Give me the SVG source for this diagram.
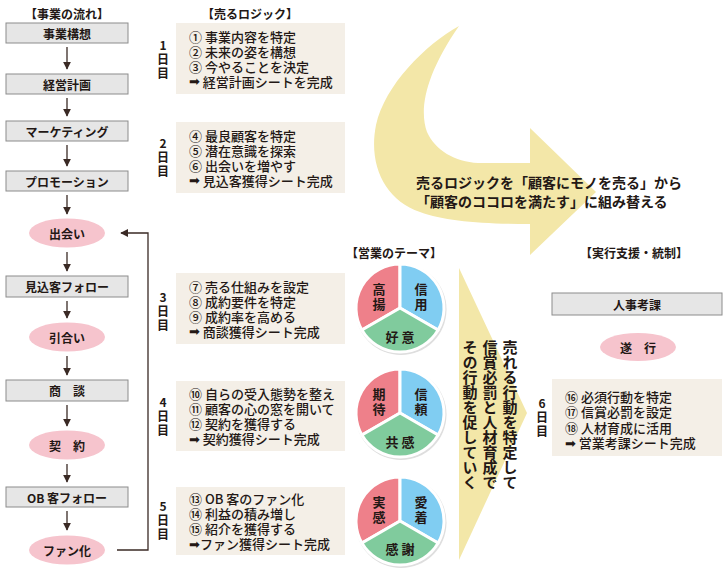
<svg xmlns="http://www.w3.org/2000/svg" width="728" height="576" viewBox="0 0 728 576">
<defs>
<style>
text{font-family:"Noto Sans CJK JP","Noto Sans CJK SC",sans-serif;fill:#231815}
.title{font-size:12px;font-weight:bold;text-anchor:middle;dominant-baseline:central}
.nl{font-size:12px;font-weight:bold;text-anchor:middle;dominant-baseline:central}
.it{font-size:13px;font-weight:500;dominant-baseline:central}
.day{font-size:12px;font-weight:bold;text-anchor:middle;dominant-baseline:central}
.pl{font-size:13px;font-weight:bold;text-anchor:middle;dominant-baseline:central}
.big{font-size:14px;font-weight:bold;dominant-baseline:central}
.vt{font-size:15px;font-weight:bold;writing-mode:vertical-rl}
.ar{font-family:"DejaVu Sans",sans-serif}
.box{fill:#E6E6E6;stroke:#8C8C8C;stroke-width:1}
.ell{fill:#F6C4CD}
.lst{fill:#F4EFE7}
.pk{fill:#EE808A;stroke:#fff;stroke-width:3;stroke-linejoin:round}
.bl{fill:#80CDF2;stroke:#fff;stroke-width:3;stroke-linejoin:round}
.gr{fill:#80CB9D;stroke:#fff;stroke-width:3;stroke-linejoin:round}
.sh{fill:#DEDEDE}
.yl{fill:#F3E7A8}
.cn{fill:none;stroke:#3A2A25;stroke-width:1.3}
</style>
<marker id="ah" viewBox="0 0 10 10" refX="9" refY="5" markerUnits="userSpaceOnUse" markerWidth="8" markerHeight="8" orient="auto">
<path d="M0,0 L10,5 L0,10 z" fill="#3A2A25"/>
</marker>
</defs>
<rect width="728" height="576" fill="#fff"/>

<!-- yellow arrows -->
<g id="bigArrow">
<path class="yl" d="M459,26 C425,45 385,85 376,125 C368,165 385,200 420,212 C445,221 480,224 530,224 L530,255 L596,192 L530,128 L530,163 L478,163 C455,162 435,150 427,132 C419,110 425,75 459,26 Z"/>
<text class="big" x="416" y="182">売るロジックを「顧客にモノを売る」から</text>
<text class="big" x="416" y="201">「顧客のココロを満たす」に組み替える</text>
</g>
<g id="vtriangle">
<polygon class="yl" points="459,268 527,413 459,560"/>
<text class="vt" x="510" y="340">売れる行動を特定して</text>
<text class="vt" x="490" y="340">信賞必罰と人材育成で</text>
<text class="vt" x="470" y="340">その行動を促していく</text>
</g>

<!-- titles -->
<text class="title" x="67" y="13">【事業の流れ】</text>
<text class="title" x="250" y="13">【売るロジック】</text>
<text class="title" x="394" y="252">【営業のテーマ】</text>
<text class="title" x="634" y="252">【実行支援・統制】</text>

<!-- connectors -->
<g id="connectors">
<line class="cn" x1="67" y1="47" x2="67" y2="69" marker-end="url(#ah)"/>
<line class="cn" x1="67" y1="98" x2="67" y2="116" marker-end="url(#ah)"/>
<line class="cn" x1="67" y1="145" x2="67" y2="166" marker-end="url(#ah)"/>
<line class="cn" x1="67" y1="195" x2="67" y2="214" marker-end="url(#ah)"/>
<line class="cn" x1="67" y1="252" x2="67" y2="271" marker-end="url(#ah)"/>
<line class="cn" x1="67" y1="301" x2="67" y2="318" marker-end="url(#ah)"/>
<line class="cn" x1="67" y1="356" x2="67" y2="375" marker-end="url(#ah)"/>
<line class="cn" x1="67" y1="405" x2="67" y2="426" marker-end="url(#ah)"/>
<line class="cn" x1="67" y1="464" x2="67" y2="482" marker-end="url(#ah)"/>
<line class="cn" x1="67" y1="511" x2="67" y2="530" marker-end="url(#ah)"/>
<polyline class="cn" points="117,550 148,550 148,233 121,233" marker-end="url(#ah)"/>
</g>

<!-- flow nodes -->
<g id="n1"><rect class="box" x="6" y="23" width="122" height="20"/><text class="nl" x="67" y="33">事業構想</text></g>
<g id="n2"><rect class="box" x="6" y="74" width="122" height="20"/><text class="nl" x="67" y="84">経営計画</text></g>
<g id="n3"><rect class="box" x="6" y="121" width="122" height="20"/><text class="nl" x="67" y="131">マーケティング</text></g>
<g id="n4"><rect class="box" x="6" y="171" width="122" height="20"/><text class="nl" x="67" y="181">プロモーション</text></g>
<g id="n5"><ellipse class="ell" cx="67" cy="233" rx="38" ry="14.5"/><text class="nl" x="67" y="233">出会い</text></g>
<g id="n6"><rect class="box" x="6" y="276" width="122" height="21"/><text class="nl" x="67" y="286.5">見込客フォロー</text></g>
<g id="n7"><ellipse class="ell" cx="67" cy="337" rx="38" ry="14.5"/><text class="nl" x="67" y="337">引合い</text></g>
<g id="n8"><rect class="box" x="6" y="380" width="122" height="21"/><text class="nl" x="67" y="390.5">商　談</text></g>
<g id="n9"><ellipse class="ell" cx="67" cy="445" rx="38" ry="14.5"/><text class="nl" x="67" y="445">契　約</text></g>
<g id="n10"><rect class="box" x="6" y="487" width="122" height="20"/><text class="nl" x="67" y="497">OB 客フォロー</text></g>
<g id="n11"><ellipse class="ell" cx="67" cy="550" rx="38" ry="14.5"/><text class="nl" x="67" y="550">ファン化</text></g>

<!-- day labels -->
<text class="day"><tspan x="163" y="44">1</tspan><tspan x="163" y="58">日</tspan><tspan x="163" y="72">目</tspan></text>
<text class="day"><tspan x="163" y="142">2</tspan><tspan x="163" y="156">日</tspan><tspan x="163" y="170">目</tspan></text>
<text class="day"><tspan x="163" y="296">3</tspan><tspan x="163" y="310">日</tspan><tspan x="163" y="324">目</tspan></text>
<text class="day"><tspan x="163" y="401">4</tspan><tspan x="163" y="415">日</tspan><tspan x="163" y="429">目</tspan></text>
<text class="day"><tspan x="163" y="505">5</tspan><tspan x="163" y="519">日</tspan><tspan x="163" y="533">目</tspan></text>
<text class="day"><tspan x="542" y="402">6</tspan><tspan x="542" y="416">日</tspan><tspan x="542" y="430">目</tspan></text>

<!-- logic boxes -->
<g id="day1"><rect class="lst" x="176" y="23" width="169" height="71"/>
<text class="it" x="189" y="36">① 事業内容を特定</text>
<text class="it" x="189" y="51">② 未来の姿を構想</text>
<text class="it" x="189" y="66">③ 今やることを決定</text>
<text class="it" x="189" y="81"><tspan class="ar">➡</tspan> 経営計画シートを完成</text></g>
<g id="day2"><rect class="lst" x="176" y="122" width="169" height="71"/>
<text class="it" x="189" y="135">④ 最良顧客を特定</text>
<text class="it" x="189" y="150">⑤ 潜在意識を探索</text>
<text class="it" x="189" y="165">⑥ 出会いを増やす</text>
<text class="it" x="189" y="180"><tspan class="ar">➡</tspan> 見込客獲得シート完成</text></g>
<g id="day3"><rect class="lst" x="176" y="273" width="169" height="71"/>
<text class="it" x="189" y="286">⑦ 売る仕組みを設定</text>
<text class="it" x="189" y="301">⑧ 成約要件を特定</text>
<text class="it" x="189" y="316">⑨ 成約率を高める</text>
<text class="it" x="189" y="331"><tspan class="ar">➡</tspan> 商談獲得シート完成</text></g>
<g id="day4"><rect class="lst" x="176" y="381" width="169" height="70"/>
<text class="it" x="189" y="393.5">⑩ 自らの受入態勢を整え</text>
<text class="it" x="189" y="408.5">⑪ 顧客の心の窓を開いて</text>
<text class="it" x="189" y="423.5">⑫ 契約を獲得する</text>
<text class="it" x="189" y="438.5"><tspan class="ar">➡</tspan> 契約獲得シート完成</text></g>
<g id="day5"><rect class="lst" x="176" y="487" width="169" height="68"/>
<text class="it" x="189" y="498.5">⑬ OB 客のファン化</text>
<text class="it" x="189" y="513.5">⑭ 利益の積み増し</text>
<text class="it" x="189" y="528.5">⑮ 紹介を獲得する</text>
<text class="it" x="189" y="543.5"><tspan class="ar">➡</tspan>ファン獲得シート完成</text></g>

<!-- pies -->
<g id="pie1">
<circle class="sh" cx="401" cy="309.5" r="45.5"/>
<path class="pk" d="M400,308 L400,264 A44,44 0 0,0 361.9,330 Z"/>
<path class="bl" d="M400,308 L400,264 A44,44 0 0,1 438.1,330 Z"/>
<path class="gr" d="M400,308 L361.9,330 A44,44 0 0,0 438.1,330 Z"/>
<text class="pl"><tspan x="379" y="288">高</tspan><tspan x="379" y="303">揚</tspan></text>
<text class="pl"><tspan x="421" y="288">信</tspan><tspan x="421" y="303">用</tspan></text>
<text class="pl" x="400" y="336">好 意</text>
</g>
<g id="pie2">
<circle class="sh" cx="401" cy="414.5" r="45.5"/>
<path class="pk" d="M400,413 L400,369 A44,44 0 0,0 361.9,435 Z"/>
<path class="bl" d="M400,413 L400,369 A44,44 0 0,1 438.1,435 Z"/>
<path class="gr" d="M400,413 L361.9,435 A44,44 0 0,0 438.1,435 Z"/>
<text class="pl"><tspan x="379" y="393">期</tspan><tspan x="379" y="408">待</tspan></text>
<text class="pl"><tspan x="421" y="393">信</tspan><tspan x="421" y="408">頼</tspan></text>
<text class="pl" x="400" y="441">共 感</text>
</g>
<g id="pie3">
<circle class="sh" cx="401" cy="522.5" r="45.5"/>
<path class="pk" d="M400,521 L400,477 A44,44 0 0,0 361.9,543 Z"/>
<path class="bl" d="M400,521 L400,477 A44,44 0 0,1 438.1,543 Z"/>
<path class="gr" d="M400,521 L361.9,543 A44,44 0 0,0 438.1,543 Z"/>
<text class="pl"><tspan x="379" y="501">実</tspan><tspan x="379" y="516">感</tspan></text>
<text class="pl"><tspan x="421" y="501">愛</tspan><tspan x="421" y="516">着</tspan></text>
<text class="pl" x="400" y="548">感 謝</text>
</g>

<!-- right side -->
<g id="jinji"><rect class="box" x="552" y="293" width="170" height="22"/><text class="nl" x="637" y="304">人事考課</text></g>
<g id="suikou"><ellipse class="ell" cx="638" cy="347" rx="38" ry="14"/><text class="nl" x="638" y="347">遂　行</text></g>
<g id="day6"><rect class="lst" x="552" y="379" width="170" height="77"/>
<text class="it" x="565" y="396">⑯ 必須行動を特定</text>
<text class="it" x="565" y="411.5">⑰ 信賞必罰を設定</text>
<text class="it" x="565" y="427">⑱ 人材育成に活用</text>
<text class="it" x="565" y="442.5"><tspan class="ar">➡</tspan> 営業考課シート完成</text></g>
</svg>
